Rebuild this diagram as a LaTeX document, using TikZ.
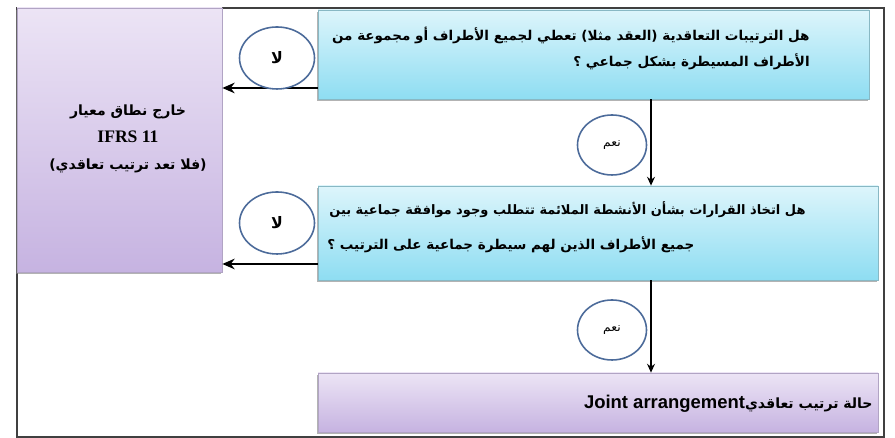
\documentclass[tikz,border=0pt]{standalone}
\usepackage{fontspec}
\setmainfont{Liberation Serif}
\newfontfamily\arabicfont[Script=Arabic]{DejaVu Sans}
\newfontfamily\latinsans{Liberation Sans}
\TeXXeTstate=1
\usetikzlibrary{arrows.meta,shapes.geometric,shadows}

\definecolor{azul}{HTML}{8EDDF2}
\definecolor{azulclaro}{HTML}{DDF5FB}
\definecolor{morado}{HTML}{C6B3E1}
\definecolor{moradoclaro}{HTML}{ECE4F5}
\definecolor{borde}{HTML}{4C6B9A}

\tikzset{
  pregunta/.style={rectangle, draw=azul!60!gray, top color=azulclaro, bottom color=azul,
    drop shadow={shadow xshift=-0.6pt, shadow yshift=-1.2pt, opacity=0.6}, inner sep=0pt},
  resultado/.style={rectangle, draw=morado!70!gray, top color=moradoclaro, bottom color=morado,
    drop shadow={shadow xshift=-0.6pt, shadow yshift=-1.2pt, opacity=0.6}, inner sep=0pt},
  respuesta/.style={ellipse, draw=borde, line width=0.9pt, fill=white, inner sep=0pt},
  flecha/.style={line width=1.4pt, -{Stealth[length=7pt,width=6pt]}},
  flechab/.style={line width=0.9pt, -{Stealth[length=5pt,width=4.5pt]}},
  texto/.style={font=\arabicfont\bfseries\fontsize{7.7}{10}\selectfont, inner sep=0pt}
}

\begin{document}
\begin{tikzpicture}
    \useasboundingbox (0,0) rectangle (17.9,8.76);
    % Dibuja el marco
    \draw[gray!50!black, line width=0.9pt] (0.34,0.02) rectangle (17.68,8.6);

    % Dibuja las cajas
    \node[resultado, minimum width=4.1cm, minimum height=5.28cm] (fuera) at (2.39,5.96) {};
    \node[pregunta, minimum width=11.02cm, minimum height=1.78cm] (q1) at (11.87,7.67) {};
    \node[pregunta, minimum width=11.2cm, minimum height=1.88cm] (q2) at (11.96,4.10) {};
    \node[resultado, minimum width=11.2cm, minimum height=1.18cm] (conjunto) at (11.96,0.71) {};

    % Textos de las cajas
    \node[texto, anchor=east] (t11) at (16.2,8.06) {\beginR هل الترتيبات التعاقدية (العقد مثلا) تعطي لجميع الأطراف أو مجموعة من\endR};
    \node[texto, anchor=east] (t12) at (16.2,7.52) {\beginR الأطراف المسيطرة بشكل جماعي ؟\endR};
    \node[texto, anchor=east, font=\arabicfont\bfseries\fontsize{7.4}{10}\selectfont] (t21) at (16.12,4.56) {\beginR هل اتخاذ القرارات بشأن الأنشطة الملائمة تتطلب وجود موافقة جماعية بين\endR};
    \node[texto, anchor=west] (t22) at (6.54,3.86) {\beginR جميع الأطراف الذين لهم سيطرة جماعية على الترتيب ؟\endR};
    \node[texto, anchor=east, font=\arabicfont\bfseries\fontsize{8}{10}\selectfont] (t3) at (17.46,0.68)
      {\beginR حالة ترتيب تعاقدي\beginL{\latinsans\bfseries\fontsize{10.5}{12}\selectfont Joint arrangement}\endL\endR};
    \node[texto, align=center, font=\arabicfont\bfseries\fontsize{8}{15.3}\selectfont] (tf) at (2.56,5.98)
      {\beginR خارج نطاق معيار\endR\\
       {\rmfamily\bfseries\fontsize{10}{15.3}\selectfont IFRS 11}\\
       \beginR (فلا تعد ترتيب تعاقدي)\endR};

    % Dibuja las flechas
    \coordinate (y1) at (0,7.0);
    \coordinate (y2) at (0,3.48);
    \coordinate (x1) at (13.02,0);
    \draw[flecha] (q1.west |- y1) -- (fuera.east |- y1);
    \draw[flecha] (q2.west |- y2) -- (fuera.east |- y2);
    \draw[flechab] (q1.south -| x1) -- (q2.north -| x1);
    \draw[flechab] (q2.south -| x1) -- (conjunto.north -| x1);

    % Respuestas
    \node[respuesta, minimum width=1.5cm, minimum height=1.24cm, font=\arabicfont\bfseries\fontsize{9}{10}\selectfont] (no1) at (5.54,7.6) {\beginR لا\endR};
    \node[respuesta, minimum width=1.5cm, minimum height=1.24cm, font=\arabicfont\bfseries\fontsize{9}{10}\selectfont] (no2) at (5.54,4.30) {\beginR لا\endR};
    \node[respuesta, minimum width=1.38cm, minimum height=1.2cm, font=\arabicfont\fontsize{7}{8}\selectfont] (si1) at (12.24,5.86) {\beginR نعم\endR};
    \node[respuesta, minimum width=1.38cm, minimum height=1.2cm, font=\arabicfont\fontsize{7}{8}\selectfont] (si2) at (12.24,2.16) {\beginR نعم\endR};
\end{tikzpicture}
\end{document}
